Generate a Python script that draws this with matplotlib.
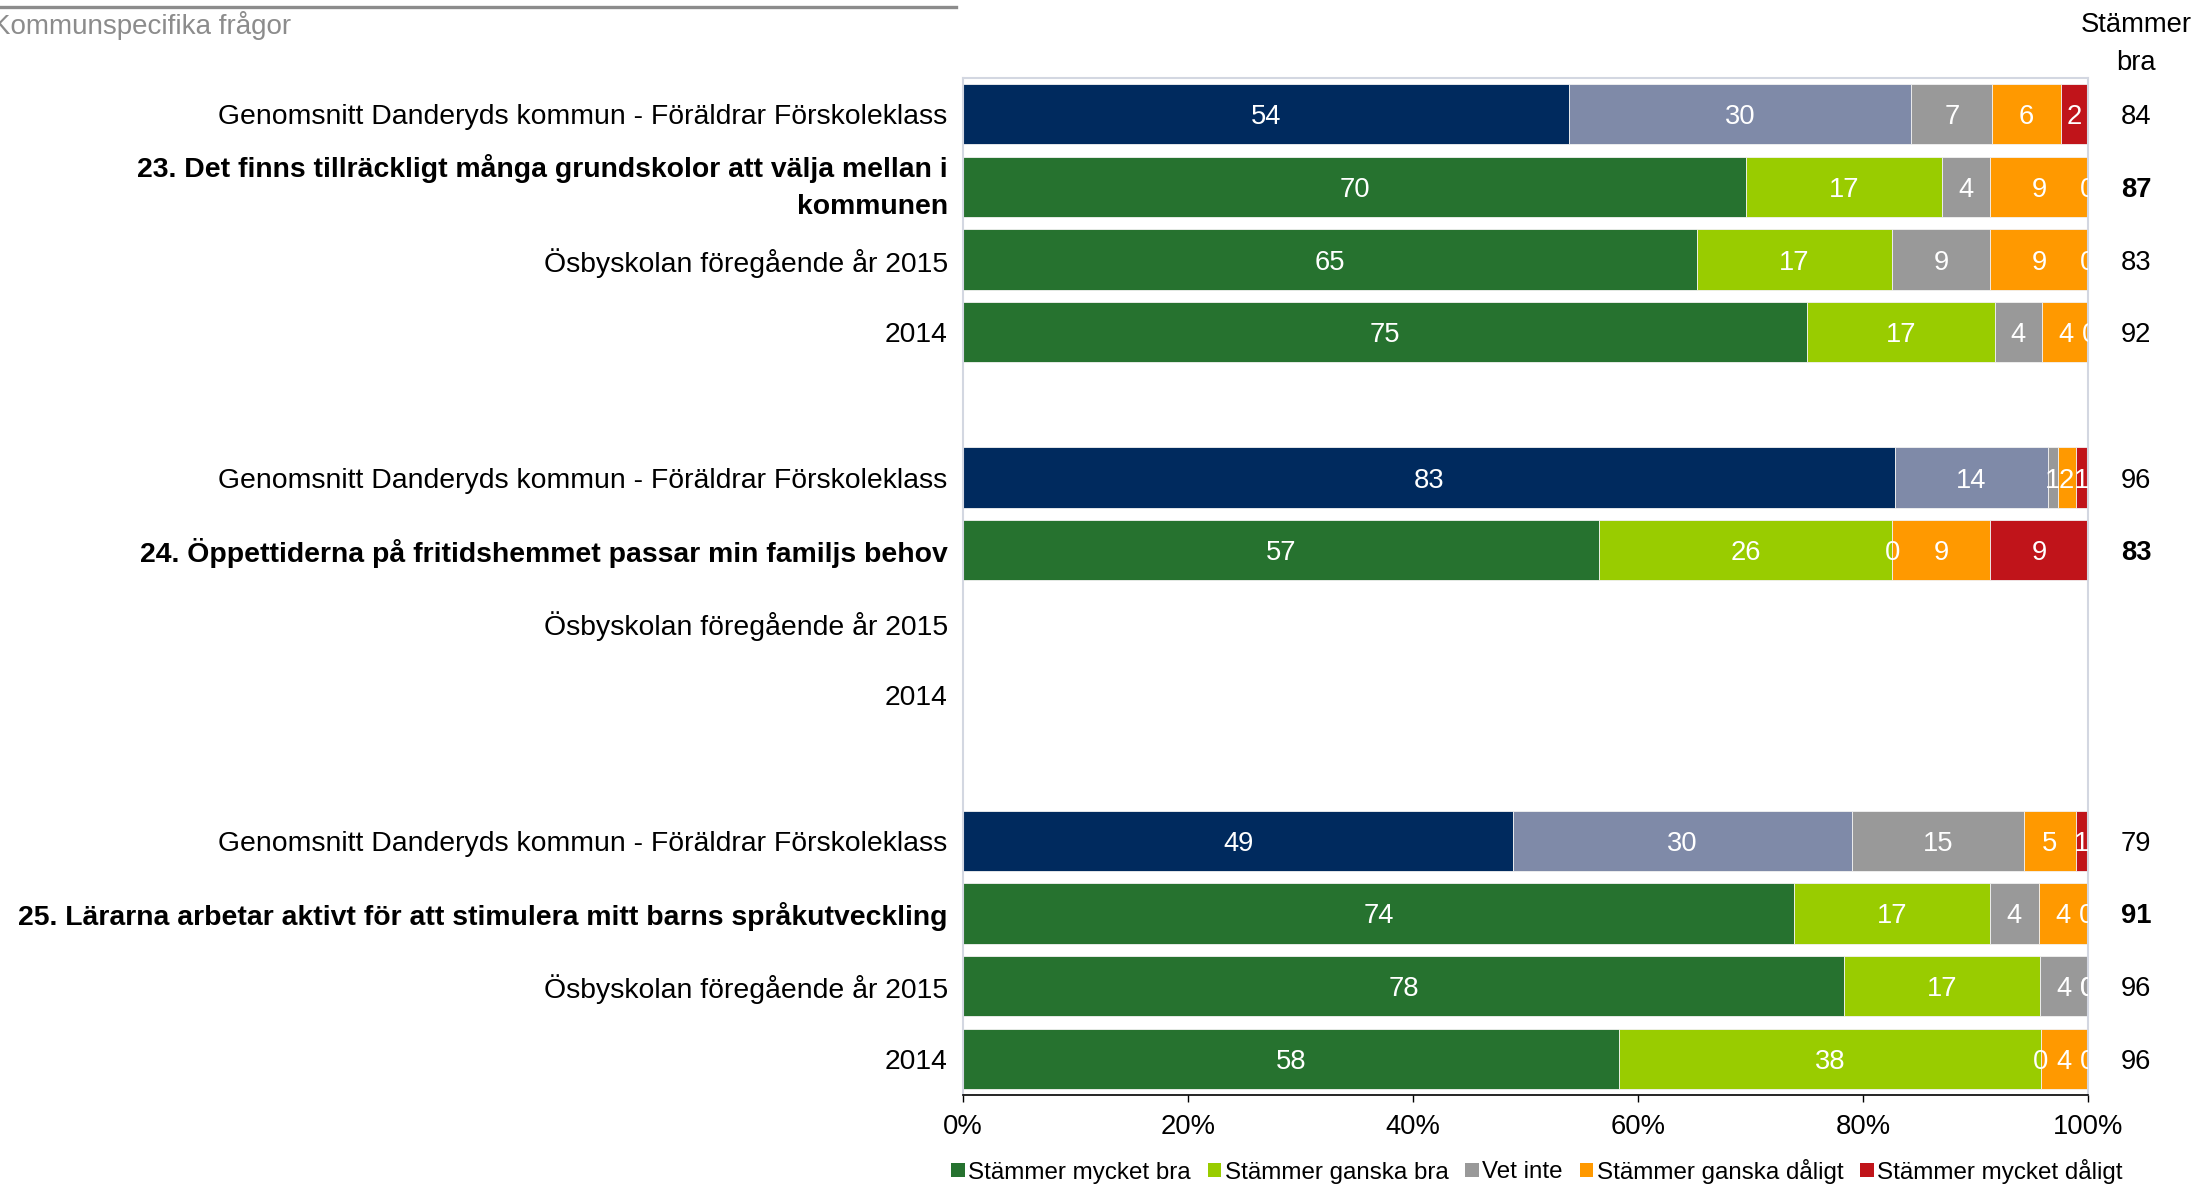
import matplotlib
matplotlib.use("Agg")
import numpy as np
import matplotlib.pyplot as plt
from matplotlib.patches import Patch
from matplotlib.lines import Line2D

plt.rcParams["font.family"] = ["Liberation Sans", "DejaVu Sans"]

TITLE = "Kommunspecifika frågor"
VALUE_HEADER = "Stämmer\nbra"
ROW_LABELS = [
    "Genomsnitt Danderyds kommun - Föräldrar Förskoleklass",
    "23. Det finns tillräckligt många grundskolor att välja mellan i\nkommunen",
    "Ösbyskolan föregående år 2015",
    "2014",
    "Genomsnitt Danderyds kommun - Föräldrar Förskoleklass",
    "24. Öppettiderna på fritidshemmet passar min familjs behov",
    "Ösbyskolan föregående år 2015",
    "2014",
    "Genomsnitt Danderyds kommun - Föräldrar Förskoleklass",
    "25. Lärarna arbetar aktivt för att stimulera mitt barns språkutveckling",
    "Ösbyskolan föregående år 2015",
    "2014",
]
QUESTION_ROWS = [1, 5, 9]
AVERAGE_ROWS = [0, 4, 8]

SERIES = ["Stämmer mycket bra", "Stämmer ganska bra", "Vet inte",
          "Stämmer ganska dåligt", "Stämmer mycket dåligt"]
nan = np.nan
mycket_bra = [53.9, 69.6, 65.2, 75.0, 82.8, 56.5, nan, nan, 48.9, 73.9, 78.3, 58.3]
ganska_bra = [30.4, 17.4, 17.4, 16.7, 13.6, 26.1, nan, nan, 30.1, 17.4, 17.4, 37.5]
vet_inte = [7.2, 4.3, 8.7, 4.2, 0.9, 0.0, nan, nan, 15.3, 4.3, 4.3, 0.0]
ganska_daligt = [6.1, 8.7, 8.7, 4.2, 1.6, 8.7, nan, nan, 4.6, 4.3, 0.0, 4.2]
mycket_daligt = [2.4, 0.0, 0.0, 0.0, 1.1, 8.7, nan, nan, 1.1, 0.0, 0.0, 0.0]

COLORS = ["#26722F", "#99CC00", "#999999", "#FF9900", "#C0141A"]
AVG_COLORS = ["#002A5E", "#7F8AA8", "#999999", "#FF9900", "#C0141A"]

W, H, DPI = 2199, 1187, 100
FS = 19.7
FS_LAB = 20.4

fig = plt.figure(figsize=(W / DPI, H / DPI), dpi=DPI)
ax = fig.add_axes([963 / W, 1 - 1095 / H, 1125 / W, 1017 / H])

data = np.array([mycket_bra, ganska_bra, vet_inte, ganska_daligt, mycket_daligt])
pos = np.array([i + i // 4 for i in range(len(ROW_LABELS))])
left = np.zeros(len(ROW_LABELS))
for k in range(len(SERIES)):
    vals = data[k]
    for i, v in enumerate(vals):
        if np.isnan(v):
            continue
        c = AVG_COLORS[k] if i in AVERAGE_ROWS else COLORS[k]
        ax.barh(pos[i], v, left=left[i], height=0.83, color=c,
                edgecolor="#f2f2f2", linewidth=0.6)
        ax.text(left[i] + v / 2, pos[i], f"{int(v + 0.5)}", ha="center",
                va="center_baseline", color="white", fontsize=FS, clip_on=True)
    left += np.nan_to_num(vals)

# "Stämmer bra" column
ytr = ax.get_yaxis_transform()
for i in range(len(ROW_LABELS)):
    if np.isnan(data[0][i]):
        continue
    tot = int(data[0][i] + data[1][i] + 0.5)
    ax.text(1.0427, pos[i], f"{tot}", transform=ytr, ha="center", va="center_baseline",
            fontsize=FS, fontweight="bold" if i in QUESTION_ROWS else "normal")
fig.text(2136 / W, 1 - 44 / H, VALUE_HEADER, ha="center", va="center", fontsize=FS,
         linespacing=1.55)

ax.set_xlim(0, 100)
ax.set_ylim(13.5, -0.5)
ax.set_xticks(range(0, 101, 20))
ax.set_xticklabels([f"{t}%" for t in range(0, 101, 20)], fontsize=FS)
ax.tick_params(axis="x", length=5, width=1, pad=9, direction="out")
ax.set_yticks(pos)
ax.set_yticklabels(ROW_LABELS, fontsize=FS_LAB)
ax.tick_params(axis="y", length=0, pad=11)
for i, t in enumerate(ax.get_yticklabels()):
    multi = "\n" in ROW_LABELS[i]
    t.set_verticalalignment("center" if multi else "center_baseline")
    if i in QUESTION_ROWS:
        t.set_fontweight("bold")
    if multi:
        t.set_linespacing(1.55)

for s in ("left", "top", "right"):
    ax.spines[s].set_color("#D3D7E1")
    ax.spines[s].set_linewidth(1.5)
ax.spines["bottom"].set_color("black")
ax.spines["bottom"].set_linewidth(1.2)

# header line and section title
fig.add_artist(Line2D([0, 956 / W], [1 - 7 / H, 1 - 7 / H], color="#8C8C8C", linewidth=2.4))
fig.text(-8 / W, 1 - 26 / H, TITLE, ha="left", va="center", fontsize=20, color="#8C8C8C")

handles = [Patch(facecolor=c) for c in COLORS]
fig.legend(handles, SERIES, loc="center", bbox_to_anchor=(1537 / W, 1 - 1171 / H),
           ncol=5, frameon=False, fontsize=17.4, handlelength=0.55, handleheight=0.55,
           handletextpad=0.15, columnspacing=0.7, borderaxespad=0, borderpad=0)

fig.savefig("out.png", dpi=DPI, facecolor="white")
